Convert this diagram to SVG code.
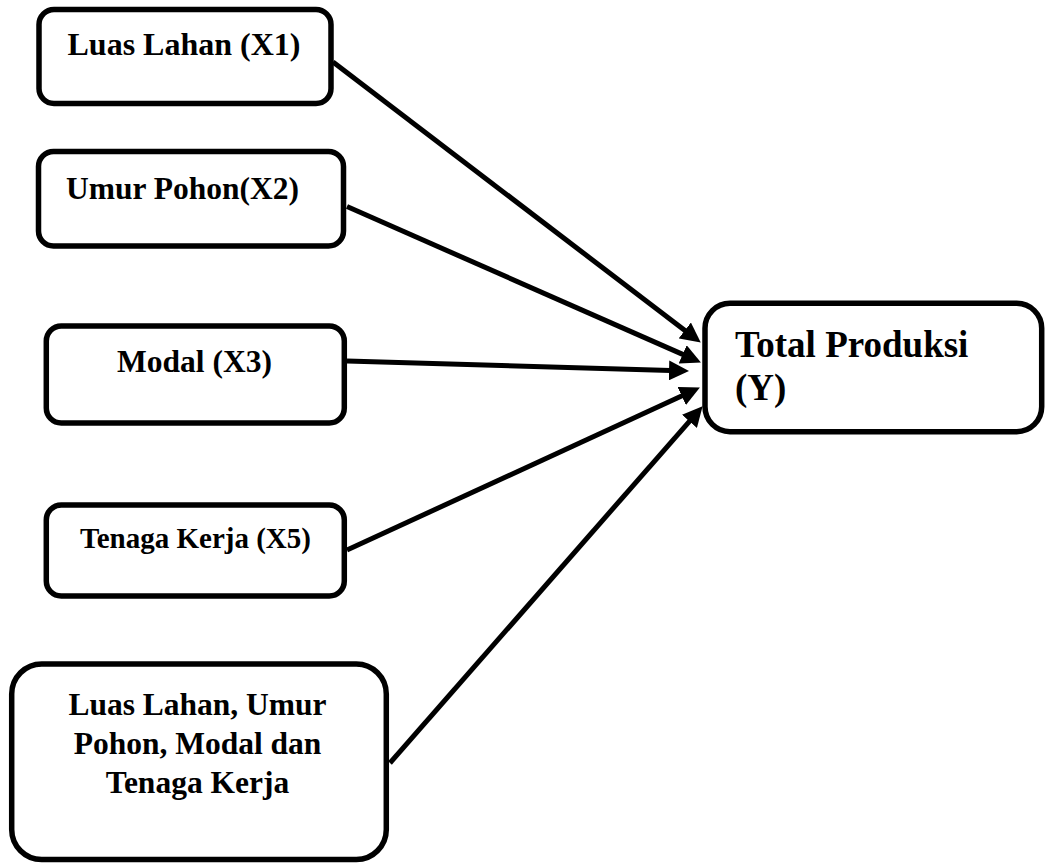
<svg xmlns="http://www.w3.org/2000/svg" width="1046" height="863" viewBox="0 0 1046 863">
<style>
.box{fill:#fff;stroke:#000;stroke-width:5.5}
.t{font-family:"Liberation Serif","Times New Roman",serif;font-weight:bold;fill:#000}
.c{stroke:#000;stroke-width:5;fill:none}
</style>
<defs>
<marker id="ah" markerUnits="userSpaceOnUse" markerWidth="20" markerHeight="20" refX="9" refY="9" orient="auto" viewBox="0 0 18 18">
<path d="M0,0 L18,9 L0,18 z" fill="#000"/>
</marker>
</defs>
<rect width="1046" height="863" fill="#fff"/>
<g id="connectors">
<line class="c" x1="333" y1="62" x2="692.8" y2="336.5" marker-end="url(#ah)"/>
<line class="c" x1="347" y1="206.5" x2="691.8" y2="358.4" marker-end="url(#ah)"/>
<line class="c" x1="347" y1="361" x2="679" y2="370.7" marker-end="url(#ah)"/>
<line class="c" x1="347" y1="550" x2="690.8" y2="391.8" marker-end="url(#ah)"/>
<line class="c" x1="390" y1="763" x2="696" y2="413.8" marker-end="url(#ah)"/>
</g>
<g id="n1">
<rect class="box" x="39" y="9.5" width="292" height="94" rx="15"/>
<text class="t" x="184" y="55" font-size="32" text-anchor="middle">Luas Lahan (X1)</text>
</g>
<g id="n2">
<rect class="box" x="38.5" y="151.5" width="305" height="94.5" rx="15"/>
<text class="t" x="182.5" y="199" font-size="31.5" text-anchor="middle">Umur Pohon(X2)</text>
</g>
<g id="n3">
<rect class="box" x="46.3" y="326" width="298" height="97" rx="15"/>
<text class="t" x="194.5" y="372" font-size="31.5" text-anchor="middle">Modal (X3)</text>
</g>
<g id="n4">
<rect class="box" x="46.3" y="505" width="298" height="91" rx="15"/>
<text class="t" x="195.5" y="548" font-size="29" text-anchor="middle">Tenaga Kerja (X5)</text>
</g>
<g id="n5">
<rect class="box" x="11.7" y="664" width="374.6" height="195.5" rx="30"/>
<text class="t" font-size="31.5" text-anchor="middle"><tspan x="197.5" y="715">Luas Lahan, Umur</tspan><tspan x="197.5" y="754">Pohon, Modal dan</tspan><tspan x="197.5" y="793">Tenaga Kerja</tspan></text>
</g>
<g id="ny">
<rect class="box" x="705" y="303.3" width="336.7" height="128.4" rx="25"/>
<text class="t" font-size="37"><tspan x="735" y="357">Total Produksi</tspan><tspan x="735" y="400">(Y)</tspan></text>
</g>
</svg>
